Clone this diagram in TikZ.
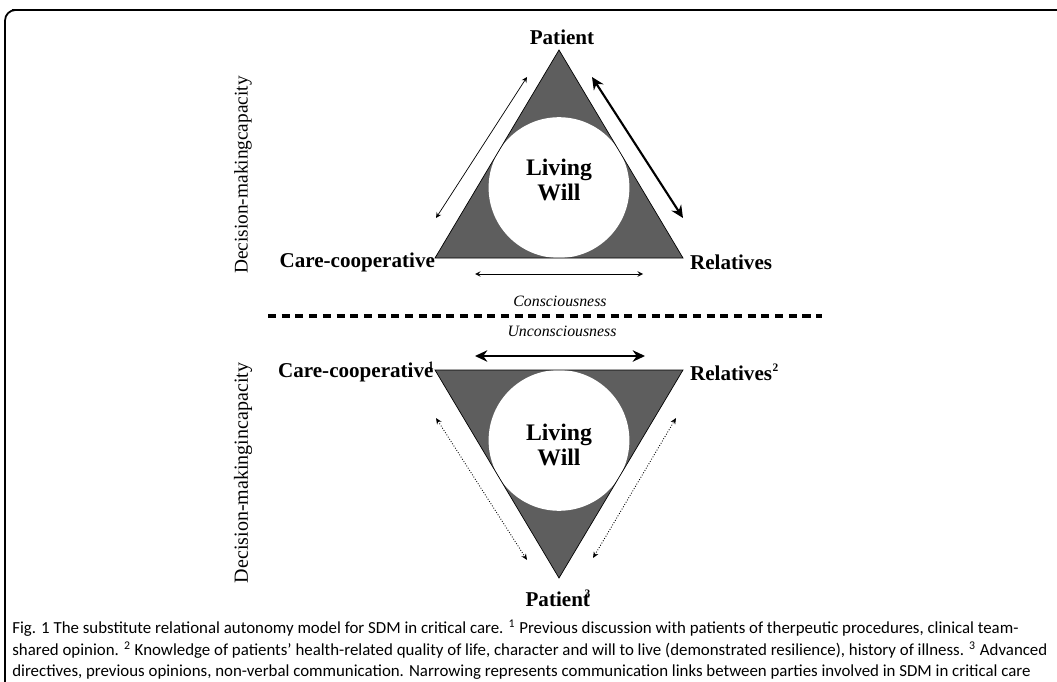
\documentclass[tikz,border=0pt]{standalone}
\usepackage{fontspec}
\setmainfont{Liberation Serif}
\newfontfamily\capfont{Carlito}
\usetikzlibrary{positioning,calc,arrows,arrows.meta}
\tikzset{font=\small}
\newcommand{\notemark}[2]{\kern#1\raisebox{0.9ex}{\fontsize{6.5}{7}\selectfont #2}}
\tikzset{
	party/.style={font=\fontsize{12}{14}\selectfont\bfseries, inner sep=1pt},
	will/.style={font=\fontsize{13.5}{13.8}\selectfont\bfseries, align=center, inner sep=1pt},
	state/.style={font=\fontsize{9}{11}\selectfont\itshape, inner sep=1pt},
	capacity/.style={font=\fontsize{11}{13}\selectfont, rotate=90, inner sep=1pt},
	captionline/.style={font=\capfont\fontsize{9.6}{11}\selectfont, anchor=west, inner sep=0pt},
	wedge/.style={fill=black!63},
	edge/.style={draw=black, line width=0.4pt},
	thinlink/.style={<->, >=stealth, line width=0.4pt},
	thicklink/.style={{Stealth[length=7pt,width=6.5pt]}-{Stealth[length=7pt,width=6.5pt]}, line width=1.2pt},
	dottedlink/.style={{Stealth[length=3.5pt,width=3pt]}-{Stealth[length=3.5pt,width=3pt]}, line width=0.5pt, densely dotted}
}

\begin{document}
\begin{tikzpicture}[x=0.02cm, y=-0.02cm]
	\useasboundingbox (0,0) rectangle (1057,682);
	% frame
	\draw [line width=1.7pt] (12,10) -- (1057,10);
	\draw [line width=1pt, rounded corners=6pt] (5,682) -- (5,10) -- (14,10);

	% capacity
	\coordinate (tp) at (559,50);
	\coordinate (tc) at (435,258);
	\coordinate (tr) at (683,258);
	\fill [wedge] (tc) -- (tp) -- (tr) -- cycle;
	\fill [white] (559,187.6) circle (70.4);
	\draw [edge] (tc) -- (tp) -- (tr) -- cycle;
	\node [will] (will1) at (559,180) {Living\\Will};

	\node [party, anchor=south] (patient1) at (562,47) {Patient};
	\node [party, anchor=east] (care1) at (437,262) {Care-cooperative};
	\node [party, anchor=west] (rel1) at (688,262) {Relatives};
	\node [capacity] (cap1) at (243,175) {Decision-makingcapacity};

	\coordinate (a1) at (436,218);
	\coordinate (a2) at (527,77);
	\coordinate (b1) at (592,77);
	\coordinate (b2) at (683,218);
	\coordinate (c1) at (475,274);
	\coordinate (c2) at (643,274);
	\draw [thinlink] (a1) -- (a2);
	\draw [thicklink] (b1) -- (b2);
	\draw [thinlink] (c1) -- (c2);

	% border
	\node [state] (cons) at (560,301) {Consciousness};
	\coordinate (d1) at (268,316);
	\coordinate (d2) at (822,316);
	\draw [line width=2.2pt, dash pattern=on 4.6pt off 3.2pt] (d1) -- (d2);
	\node [state] (uncons) at (562,331) {Unconsciousness};

	% incapacity
	\coordinate (e1) at (475,356);
	\coordinate (e2) at (645,356);
	\draw [thicklink] (e1) -- (e2);

	\coordinate (bc) at (435,370);
	\coordinate (br) at (683,370);
	\coordinate (bp) at (559,578);
	\fill [wedge] (bc) -- (br) -- (bp) -- cycle;
	\fill [white] (559,440.4) circle (70.4);
	\draw [edge] (bc) -- (br) -- (bp) -- cycle;
	\node [will] (will2) at (559,445) {Living\\Will};

	\node [party, anchor=east] (care2) at (436,372) {Care-cooperative\notemark{-3pt}{1}};
	\node [party, anchor=west] (rel2) at (688,372) {Relatives\notemark{0.3pt}{2}};
	\node [party] (patient2) at (558,598) {Patient\notemark{-3pt}{3}};
	\node [capacity, font=\fontsize{11.4}{13}\selectfont] (cap2) at (243,473) {Decision-makingincapacity};

	\coordinate (f1) at (436,418);
	\coordinate (f2) at (527,560);
	\coordinate (g1) at (593,558);
	\coordinate (g2) at (676,418);
	\draw [dottedlink] (f1) -- (f2);
	\draw [dottedlink] (g1) -- (g2);

	% caption
	\node [captionline] (cap-a) at (12,628) {Fig. 1 The substitute relational autonomy model for SDM in critical care. \textsuperscript{1} Previous discussion with patients of therpeutic procedures, clinical team-};
	\node [captionline] (cap-b) at (12,650) {shared opinion. \textsuperscript{2} Knowledge of patients’ health-related quality of life, character and will to live (demonstrated resilience), history of illness. \textsuperscript{3} Advanced};
	\node [captionline] (cap-c) at (12,672) {directives, previous opinions, non-verbal communication. Narrowing represents communication links between parties involved in SDM in critical care};
\end{tikzpicture}
\end{document}
